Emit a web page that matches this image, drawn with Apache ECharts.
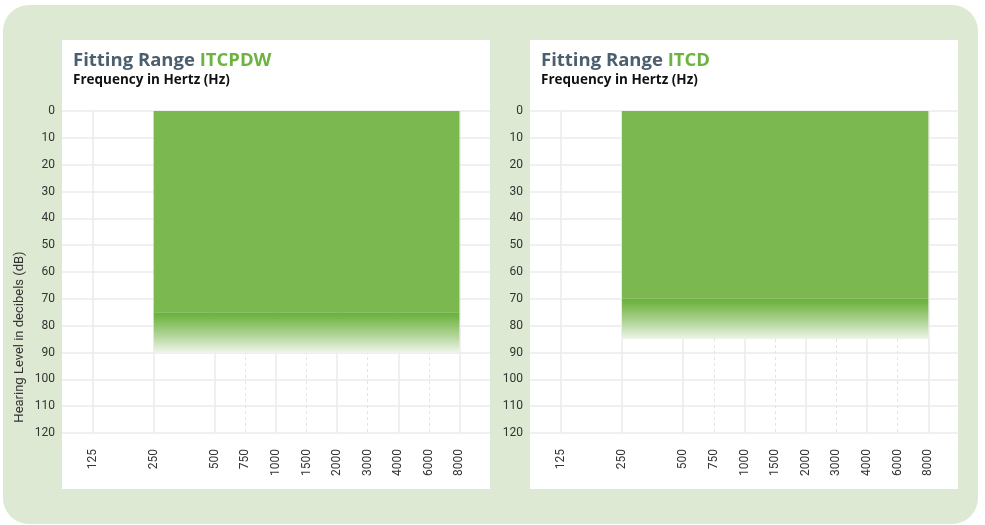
<!DOCTYPE html>
<html>
<head>
<meta charset="utf-8">
<script src="https://cdn.jsdelivr.net/npm/echarts@6/dist/echarts.min.js"></script>
<style>
  html, body { margin: 0; padding: 0; background: #fff; }
  #chart { width: 985px; height: 525px; }
</style>
</head>
<body>
<div id="chart"></div>
<script>
// frequency ticks (log2 spacing, half steps above 500 Hz)
const freqLabels = ['125', '250', '500', '750', '1000', '1500', '2000', '3000', '4000', '6000', '8000'];
const freqPos = [0, 1, 2, 2.5, 3, 3.5, 4, 4.5, 5, 5.5, 6];
const majorPos = [0, 1, 2, 3, 4, 5, 6];
const minorPos = [2.5, 3.5, 4.5, 5.5];

// fitting ranges per model
const models = ['ITCPDW', 'ITCD'];
const rangeFrom = ['250', '250'];
const rangeTo = ['8000', '8000'];
const levelTop = [0, 0];
const levelSolid = [75, 70];
const levelFade = [90, 85];

const chart = echarts.init(document.getElementById('chart'), null, { renderer: 'canvas' });

const grids = [
  { left: 62, right: 495, top: 111, bottom: 92 },
  { left: 530, right: 26, top: 111, bottom: 92 }
];
const panels = [[62, 40, 428, 449], [530, 40, 428, 449]];

const posOf = f => freqPos[freqLabels.indexOf(f)];

function renderRange(params, api) {
  const p0 = api.coord([api.value(0), api.value(2)]);
  const p1 = api.coord([api.value(1), api.value(3)]);
  const p2 = api.coord([api.value(1), api.value(4)]);
  const w = p1[0] - p0[0];
  return {
    type: 'group',
    children: [
      {
        type: 'rect',
        shape: { x: p0[0], y: p0[1], width: w, height: p1[1] - p0[1] },
        style: { fill: '#7bb84f' }
      },
      {
        type: 'rect',
        shape: { x: p0[0], y: p1[1], width: w, height: p2[1] - p1[1] },
        style: {
          fill: new echarts.graphic.LinearGradient(0, 0, 0, 1, [
            { offset: 0, color: '#6ab13c' },
            { offset: 0.1, color: '#72b546' },
            { offset: 0.55, color: '#add392' },
            { offset: 1, color: '#eef5ea' }
          ])
        }
      }
    ]
  };
}

const xAxis = [], yAxis = [], series = [], titles = [];
models.forEach((m, i) => {
  // major axis with labels + solid lines
  xAxis.push({
    type: 'value', gridIndex: i, min: -0.5, max: 6.5,
    axisLine: { show: false },
    axisTick: { show: false, customValues: majorPos },
    axisLabel: {
      customValues: freqPos,
      rotate: 90, margin: 16,
      fontFamily: 'Roboto', fontSize: 12, color: '#333',
      formatter: v => freqLabels[freqPos.indexOf(v)]
    },
    splitLine: { show: true, lineStyle: { color: '#ebebeb', width: 1.5 } }
  });
  // minor axis: dashed half-step lines
  xAxis.push({
    type: 'value', gridIndex: i, min: -0.5, max: 6.5,
    axisLine: { show: false },
    axisTick: { show: false, customValues: minorPos },
    axisLabel: { show: false },
    splitLine: { show: true, lineStyle: { color: '#e4e4e4', width: 1, type: [3, 3] } }
  });
  yAxis.push({
    type: 'value', gridIndex: i, inverse: true, min: 0, max: 120, interval: 10,
    axisLine: { show: false },
    axisTick: { show: false },
    axisLabel: { margin: 7, fontFamily: 'Roboto', fontSize: 12, color: '#333' },
    splitLine: { lineStyle: { color: '#ebebeb', width: 1.5 } }
  });
  series.push({
    type: 'custom',
    xAxisIndex: i * 2, yAxisIndex: i,
    z: 3,
    renderItem: renderRange,
    data: [[posOf(rangeFrom[i]), posOf(rangeTo[i]), levelTop[i], levelSolid[i], levelFade[i]]]
  });
  titles.push({
    left: panels[i][0] + 11, top: 51,
    padding: 0,
    text: '{a|Fitting Range }{b|' + m + '}',
    subtext: 'Frequency in Hertz (Hz)',
    itemGap: 3,
    textStyle: {
      rich: {
        a: { fontFamily: 'Open Sans', fontWeight: 'bold', fontSize: 18.5, color: '#4b5f6f' },
        b: { fontFamily: 'Open Sans', fontWeight: 'bold', fontSize: 18.5, color: '#6db33f' }
      }
    },
    subtextStyle: { fontFamily: 'Open Sans', fontWeight: 'bold', fontSize: 13.5, color: '#111' }
  });
});

const graphics = [
  { type: 'rect', z: -20, shape: { x: 3, y: 5, width: 975, height: 519, r: 26 }, style: { fill: '#dde9d3' } }
];
panels.forEach(p => {
  graphics.push({ type: 'rect', z: -10, shape: { x: p[0], y: p[1], width: p[2], height: p[3] }, style: { fill: '#fff' } });
});
graphics.push({
  type: 'text', x: 20, y: 337, rotation: Math.PI / 2,
  style: {
    text: 'Hearing Level in decibels (dB)',
    fontFamily: 'Roboto', fontSize: 13, fill: '#333',
    align: 'center', verticalAlign: 'middle'
  }
});

chart.setOption({
  animation: false,
  title: titles,
  graphic: graphics,
  grid: grids,
  xAxis: xAxis,
  yAxis: yAxis,
  series: series
});
</script>
</body>
</html>
